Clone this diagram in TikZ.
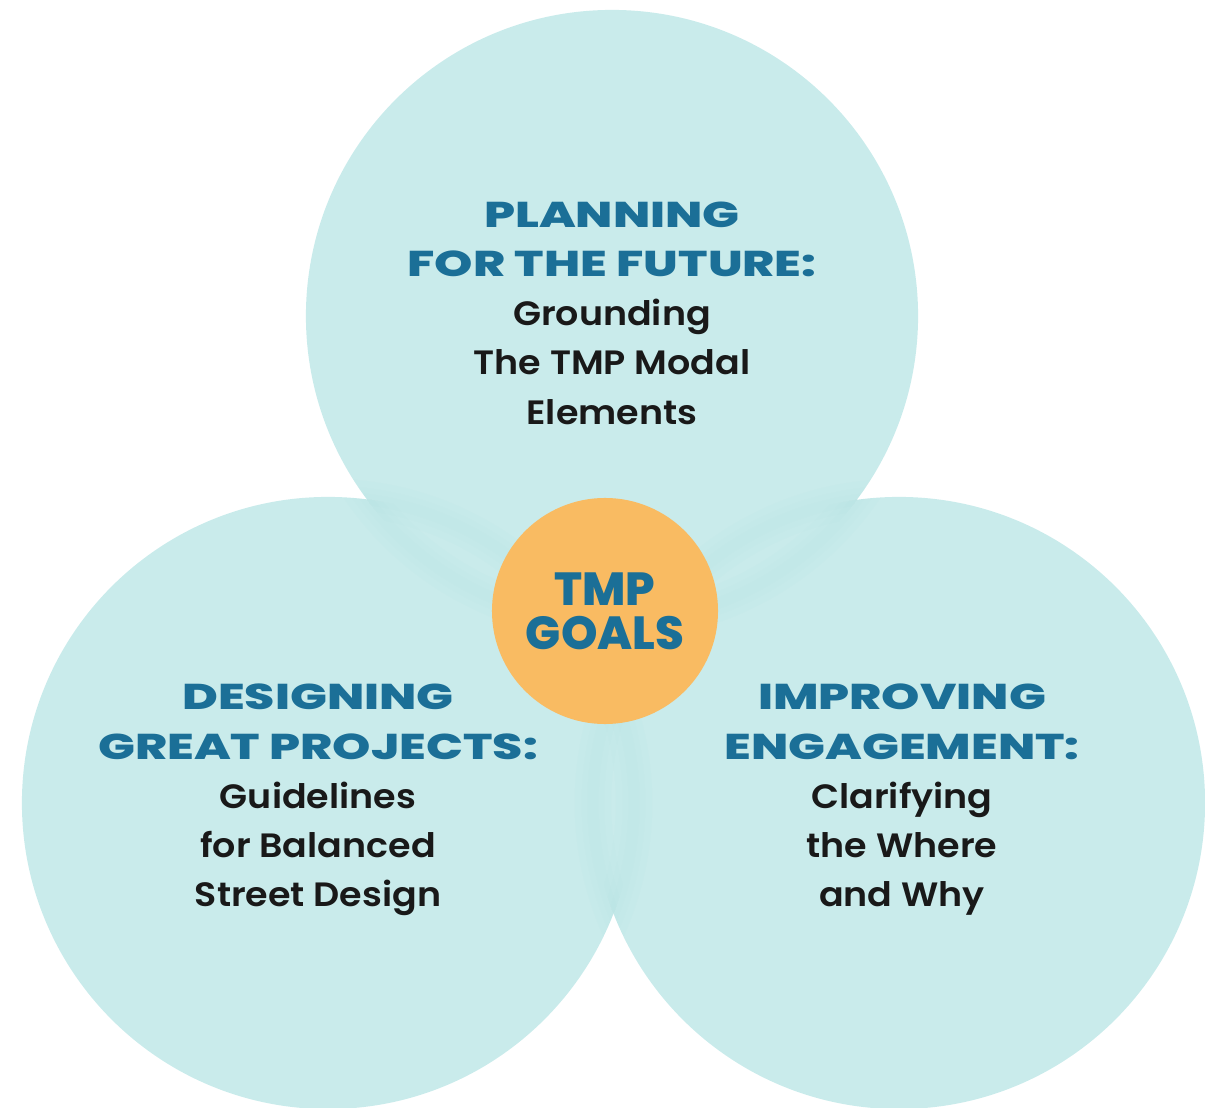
\documentclass[tikz,border=0pt]{standalone}
\usepackage{fontspec}
\setmainfont{Poppins}
\IfFontExistsTF{Poppins ExtraBold}{\newfontfamily\headfont{Poppins ExtraBold}[FakeStretch=1.36]}{\newfontfamily\headfont{Poppins}[UprightFont=*-Bold, FakeStretch=1.36]}
\IfFontExistsTF{Poppins ExtraBold}{\newfontfamily\hubfont{Poppins ExtraBold}}{\newfontfamily\hubfont{Poppins}[UprightFont=*-Bold]}
\IfFontExistsTF{Poppins SemiBold}{\newfontfamily\bodyfont{Poppins SemiBold}[FakeStretch=1.08]}{\newfontfamily\bodyfont{Poppins}[UprightFont=*-Bold, FakeStretch=1.08]}
\usepackage{tikz}
\definecolor{ringfill}{HTML}{C9EBEB}
\definecolor{ringedge}{HTML}{8FCFD3}
\definecolor{hubfill}{HTML}{F9BB62}
\definecolor{tmpblue}{HTML}{1B6F97}
\newcommand{\headline}[1]{\textcolor{tmpblue}{\headfont\fontsize{25.5}{35}\selectfont #1}}

\begin{document}
\begin{tikzpicture}[x=0.025cm, y=-0.025cm,
    goal/.style={circle, fill=ringfill, minimum size=15.3cm, inner sep=0pt},
    hub/.style={circle, fill=hubfill, minimum size=5.65cm, inner sep=0pt},
    goaltext/.style={align=center, text=black!90, font=\bodyfont\fontsize{24}{35}\selectfont}]
    \useasboundingbox (0,0) rectangle (1205,1108);
    \node[goal] (T) at (612,316) {};
    \node[goal] (L) at (328,803) {};
    \node[goal] (R) at (899,803) {};
    \foreach \a/\b in {T/L, T/R, L/T, R/T, L/R, R/L} {
        \begin{scope}
            \clip (\b.center) circle [radius=7.65cm];
            \foreach \w in {8,16,26} {
                \draw[ringedge, line width=\w pt, opacity=0.035] (\a.center) circle [radius=7.65cm];
            }
        \end{scope}
    }
    \node[hub] (C) at (605,611) {};
    \node[align=center, text=tmpblue, font=\hubfont\fontsize{33}{31.3}\selectfont] (Ctext) at (C) {TMP\\GOALS};
    \node[goaltext] (Ttext) at (612,313) {\headline{PLANNING}\\\headline{FOR THE FUTURE:}\\Grounding\\The TMP Modal\\Elements};
    \node[goaltext] (Ltext) at (318,800) {\headline{DESIGNING}\\\headline{GREAT PROJECTS:}\\Guidelines\\for Balanced\\Street Design};
    \node[goaltext] (Rtext) at (902,800) {\headline{IMPROVING}\\\headline{ENGAGEMENT:}\\Clarifying\\the Where\\and Why};
\end{tikzpicture}
\end{document}
